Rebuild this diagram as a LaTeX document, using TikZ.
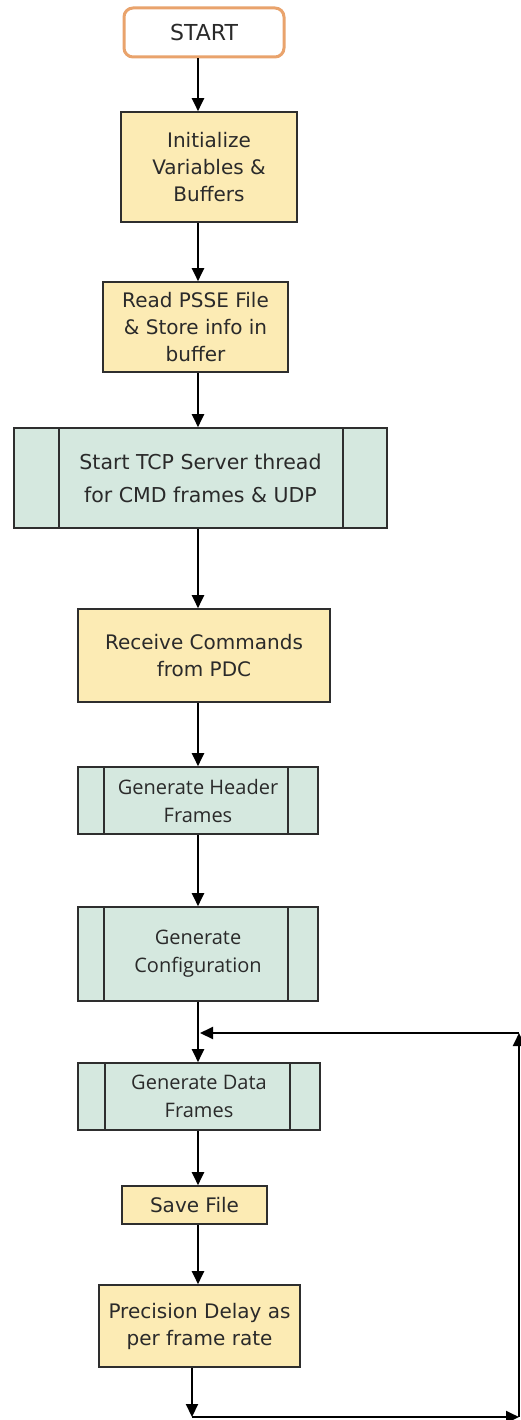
\documentclass[tikz,border=0pt]{standalone}
\usepackage{fontspec}
\setmainfont{DejaVu Sans}
\newfontfamily\osans{Open Sans}
\usetikzlibrary{arrows.meta,calc}
\definecolor{yfill}{HTML}{FCEBB4}
\definecolor{gfill}{HTML}{D5E8DF}
\definecolor{obord}{HTML}{E9A36C}
\definecolor{bord}{HTML}{2E2E2E}
\definecolor{txt}{HTML}{2A2A2A}
\begin{document}
\begin{tikzpicture}[x=1pt,y=-1pt,
  box/.style={draw=bord,line width=1.6pt,inner sep=0pt,align=center,text=txt},
  ybox/.style={box,fill=yfill,font=\fontsize{20}{27}\selectfont},
  gbox/.style={box,fill=gfill,font=\osans\fontsize{20}{28}\selectfont},
  startbox/.style={draw=obord,line width=3pt,rounded corners=9pt,fill=white,text=txt,
    minimum width=160pt,minimum height=49pt,inner sep=0pt,font=\fontsize{22}{26}\selectfont},
  inner/.style={draw=bord,line width=1.6pt},
  arr/.style={draw=black,line width=2pt,-{Triangle[length=13pt,width=12pt]}},
  link/.style={draw=black,line width=2pt}]
\useasboundingbox (0,0) rectangle (521,1420);
\fill[white] (0,0) rectangle (521,1420);

\node[startbox] (start) at (204,32.5) {START};
\node[ybox,minimum width=176pt,minimum height=110pt] (init) at (209,167) {Initialize\\Variables \&\\Buffers};
\node[ybox,minimum width=185pt,minimum height=90pt] (read) at (195.5,327) {Read PSSE File\\\& Store info in\\buffer};
\node[box,fill=gfill,font=\fontsize{20.5}{33}\selectfont,minimum width=373pt,minimum height=100pt] (tcp) at (200.5,478) {Start TCP Server thread\\for CMD frames \& UDP};
\node[ybox,minimum width=252pt,minimum height=93pt] (recv) at (204,655.5) {Receive Commands\\from PDC};
\node[gbox,minimum width=240pt,minimum height=67pt] (header) at (198,800.5) {Generate Header\\Frames};
\node[gbox,minimum width=240pt,minimum height=94pt] (config) at (198,954) {Generate\\Configuration};
\node[gbox,minimum width=242pt,minimum height=67pt] (data) at (199,1096.5) {Generate Data\\Frames};
\node[ybox,minimum width=145pt,minimum height=38pt] (save) at (194.5,1205) {Save File};
\node[ybox,minimum width=201pt,minimum height=82pt] (prec) at (199.5,1326) {Precision Delay as\\per frame rate};

% inner lines of predefined-process boxes
\draw[inner] ([xshift=46pt]tcp.north west) -- ([xshift=46pt]tcp.south west);
\draw[inner] ([xshift=-45pt]tcp.north east) -- ([xshift=-45pt]tcp.south east);
\draw[inner] ([xshift=27pt]header.north west) -- ([xshift=27pt]header.south west);
\draw[inner] ([xshift=-31pt]header.north east) -- ([xshift=-31pt]header.south east);
\draw[inner] ([xshift=27pt]config.north west) -- ([xshift=27pt]config.south west);
\draw[inner] ([xshift=-31pt]config.north east) -- ([xshift=-31pt]config.south east);
\draw[inner] ([xshift=28pt]data.north west) -- ([xshift=28pt]data.south west);
\draw[inner] ([xshift=-31pt]data.north east) -- ([xshift=-31pt]data.south east);

\coordinate (ax) at (198,0);
\coordinate (c1) at (192,1417);
\coordinate (c2) at (519,1417);
\coordinate (c3) at (519,1033);
\coordinate (j) at (200,1033);

\draw[arr] (start.south -| ax) -- (init.north -| ax);
\draw[arr] (init.south -| ax) -- (read.north -| ax);
\draw[arr] (read.south -| ax) -- (tcp.north -| ax);
\draw[arr] (tcp.south -| ax) -- (recv.north -| ax);
\draw[arr] (recv.south -| ax) -- (header.north -| ax);
\draw[arr] (header.south -| ax) -- (config.north -| ax);
\draw[arr] (config.south -| ax) -- (data.north -| ax);
\draw[arr] (data.south -| ax) -- (save.north -| ax);
\draw[arr] (save.south -| ax) -- (prec.north -| ax);
\draw[arr] (prec.south -| c1) -- (c1);
\draw[arr] (c1) -- (c2);
\draw[arr] (c2) -- (c3);
\draw[arr] (c3) -- (j);
\end{tikzpicture}
\end{document}
